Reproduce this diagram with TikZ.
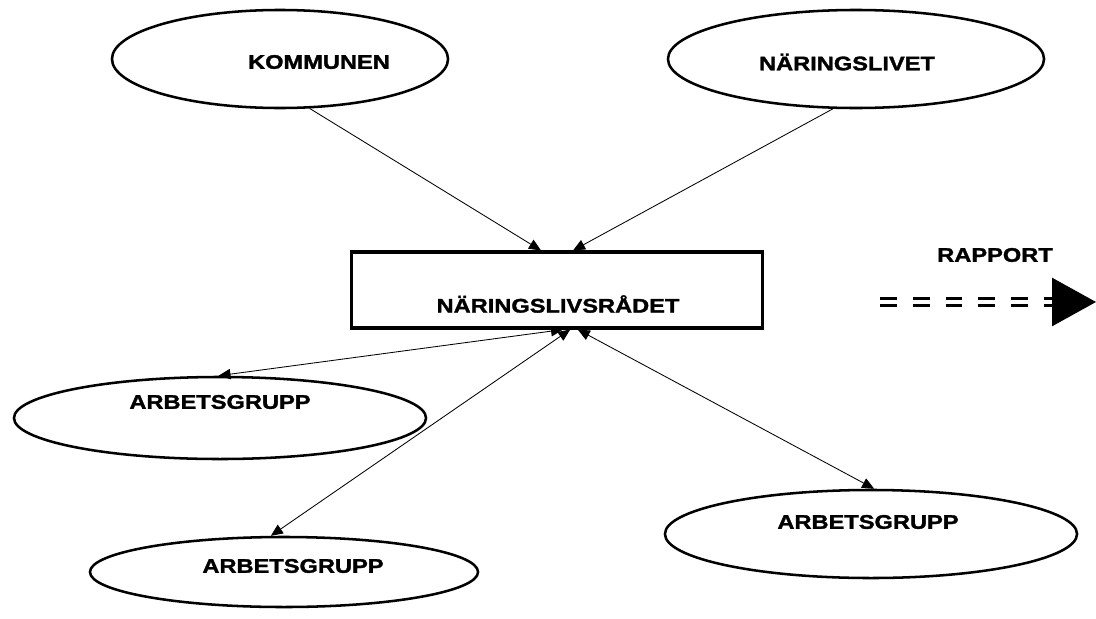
\documentclass[tikz,border=0pt]{standalone}
\usepackage{fontspec}
\setmainfont{Liberation Sans}[BoldFeatures={FakeBold=1.6,FakeStretch=1.2}]
\usetikzlibrary{arrows.meta,shapes.geometric}

\tikzset{
    part/.style={draw, ellipse, line width=1.8pt, inner sep=0pt},
    lbl/.style={font=\bfseries\fontsize{14}{16}\selectfont, inner sep=0pt},
    tip/.style={line width=0.6pt, -{Triangle[length=0.3cm,width=0.26cm]}},
    both/.style={line width=0.6pt, {Triangle[length=0.3cm,width=0.26cm]}-{Triangle[length=0.3cm,width=0.26cm]}}
}

\begin{document}
\begin{tikzpicture}[x=0.025cm, y=-0.025cm]

    \useasboundingbox (0,0) rectangle (1096,618);

    \node[part, minimum width=8.4cm, minimum height=2.45cm] (kommun) at (280,59) {};
    \node[part, minimum width=9.4cm, minimum height=2.45cm] (nlivet) at (856,59) {};
    \node[draw, line width=2.2pt, minimum width=10.25cm, minimum height=1.9cm] (radet) at (557,290) {};
    \node[part, minimum width=10.3cm, minimum height=2.05cm] (grupp1) at (220,418) {};
    \node[part, minimum width=9.7cm, minimum height=1.75cm] (grupp2) at (284,572) {};
    \node[part, minimum width=10.3cm, minimum height=2.2cm] (grupp3) at (871,534) {};

    \node[lbl] (kommuntxt) at (319,62) {KOMMUNEN};
    \node[lbl] (nlivettxt) at (847,62) {NÄRINGSLIVET};
    \node[lbl] (radettxt) at (558,304) {NÄRINGSLIVSRÅDET};
    \node[lbl] (grupp1txt) at (220,402) {ARBETSGRUPP};
    \node[lbl] (grupp2txt) at (293,566) {ARBETSGRUPP};
    \node[lbl] (grupp3txt) at (868,522) {ARBETSGRUPP};
    \node[lbl] (rapport) at (995,255) {RAPPORT};

    \draw[tip] (kommun.-59) -- ([xshift=-0.4cm]radet.north);
    \draw[tip] (nlivet.-115) -- ([xshift=0.4cm]radet.north);

    \draw[both] ([xshift=0.15cm]radet.south) -- (grupp1.92);
    \draw[both] ([xshift=0.33cm]radet.south) -- (grupp2.110);
    \draw[both] ([xshift=0.52cm]radet.south) -- (grupp3.86);

    % rapport-pilen
    \coordinate (rapfran) at (880,302);
    \coordinate (raptill) at (1096,302);
    \draw[double, double distance=0.09cm, line width=0.07cm, dash pattern=on 0.42cm off 0.4cm,
          -{Triangle[length=1.1cm,width=1.2cm]}] (rapfran) -- (raptill);

\end{tikzpicture}
\end{document}
